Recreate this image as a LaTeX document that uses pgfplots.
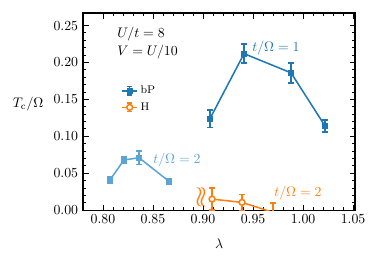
\documentclass[border=0pt]{standalone}
\usepackage{pgfplots}
\pgfplotsset{compat=1.18}
\definecolor{cdb}{HTML}{1F77B4}
\definecolor{clb}{RGB}{90,165,214}
\definecolor{cor}{HTML}{FF7F0E}
\begin{document}
\begin{tikzpicture}
\begin{axis}[
  scale only axis, width=196bp, height=142bp,
  xmin=0.78, xmax=1.052, ymin=0, ymax=0.267,
  xtick={0.8,0.85,0.9,0.95,1.0,1.05},
  ytick={0,0.05,0.1,0.15,0.2,0.25},
  minor x tick num=4, minor y tick num=4,
  tick align=inside, tick pos=both,
  scaled ticks=false,
  xticklabel style={/pgf/number format/.cd, fixed, fixed zerofill, precision=2},
  yticklabel style={/pgf/number format/.cd, fixed, fixed zerofill, precision=2},
  major tick length=4bp, minor tick length=2.2bp,
  axis line style={line width=0.9bp},
  every tick/.style={black, line width=0.7bp},
  xlabel={$\lambda$},
  ylabel={$T_{\mathrm{c}}/\Omega$},
  every axis x label/.style={at={(rel axis cs:0.5,0)}, anchor=center, yshift=-24bp},
  every axis y label/.style={at={(rel axis cs:0,0.538)}, anchor=east, xshift=-25bp},
  clip marker paths=true,
  legend cell align=left,
  legend style={draw=none, fill=none, at={(rel axis cs:0.125,0.66)}, anchor=north west, font=\footnotesize, row sep=1bp},
  legend image code/.code={
    \draw[#1, mark=none] (0.19cm,-0.11cm) -- (0.19cm,0.11cm);
    \draw[#1, mark=none] (0.12cm,-0.11cm) -- (0.26cm,-0.11cm);
    \draw[#1, mark=none] (0.12cm,0.11cm) -- (0.26cm,0.11cm);
    \draw[#1, mark repeat=2, mark phase=2] plot coordinates {(0cm,0cm) (0.19cm,0cm) (0.38cm,0cm)};
  },
]
% bP, t/Omega = 1
\addplot[cdb, line width=1.1bp, mark=square*, mark size=1.6bp,
  error bars/.cd, y dir=both, y explicit, error mark=|,
  error bar style={line width=1.1bp},
  error mark options={mark size=2.3bp, line width=1.1bp}]
  coordinates {
  (0.907,0.124) +- (0,0.012)
  (0.941,0.212) +- (0,0.013)
  (0.988,0.186) +- (0,0.0135)
  (1.022,0.114) +- (0,0.008)
  };
\addlegendentry{bP}
% H, t/Omega = 2
\addplot[cor, line width=1.1bp, mark=*, mark size=2.1bp, mark options={fill=white},
  error bars/.cd, y dir=both, y explicit, error mark=|,
  error bar style={line width=1.1bp},
  error mark options={mark size=2.3bp, line width=1.1bp}]
  coordinates {
  (0.909,0.015) +- (0,0.015)
  (0.939,0.0105) +- (0,0.011)
  (0.970,-0.003) +- (0,0.0125)
  };
\addlegendentry{H}
% bP, t/Omega = 2
\addplot[clb, line width=1.1bp, mark=square*, mark size=1.6bp, forget plot,
  error bars/.cd, y dir=both, y explicit, error mark=|,
  error bar style={line width=1.1bp},
  error mark options={mark size=2.3bp, line width=1.1bp}]
  coordinates {
  (0.807,0.041) +- (0,0.004)
  (0.821,0.068) +- (0,0.005)
  (0.836,0.071) +- (0,0.009)
  (0.866,0.039) +- (0,0.004)
  };
\node[anchor=west, inner sep=0pt] at (axis cs:0.814,0.238) {$U/t=8$};
\node[anchor=west, inner sep=0pt] at (axis cs:0.814,0.214) {$V=U/10$};
\node[anchor=west, inner sep=0pt, text=cdb] at (axis cs:0.949,0.219) {$t/\Omega=1$};
\node[anchor=west, inner sep=0pt, text=clb] at (axis cs:0.850,0.068) {$t/\Omega=2$};
\node[anchor=west, inner sep=0pt, text=cor] at (axis cs:0.971,0.023) {$t/\Omega=2$};
\node[inner sep=0pt, text=cor, font=\huge] at (axis cs:0.8985,0.018) {$\wr\!\wr$};
\end{axis}
\path (current axis.south west) ++(-59.8bp,-38.9bp);
\path (current axis.north east) ++(19.4bp,9.4bp);
\end{tikzpicture}
\end{document}
